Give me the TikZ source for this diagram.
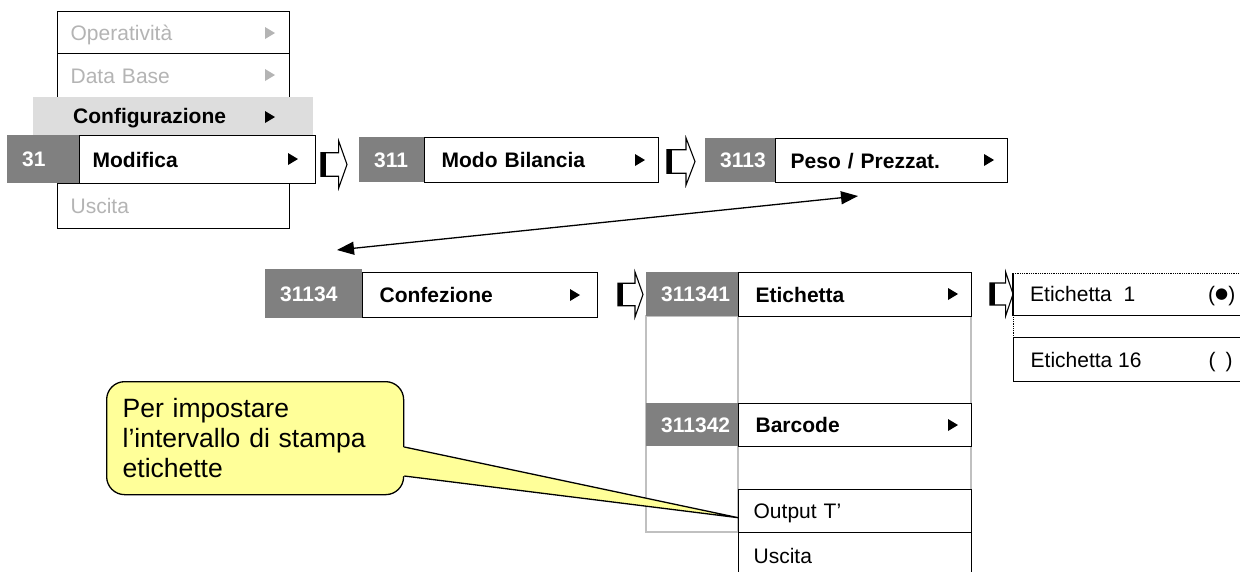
\documentclass[tikz,border=0pt]{standalone}
\usepackage{fontspec}
\setmainfont{Liberation Sans}
\newfontfamily\symfont{DejaVu Sans}
\usetikzlibrary{arrows.meta,calc}
\definecolor{numgray}{HTML}{808080}
\definecolor{dimtext}{HTML}{B4B4B4}
\definecolor{bandgray}{HTML}{DDDDDD}
\definecolor{colgray}{HTML}{C0C0C0}
\definecolor{noteyellow}{HTML}{FFFF99}
\newcommand\menufont{\fontsize{21}{24}\selectfont}
\newcommand\notefont{\fontsize{26.5}{30}\selectfont}
\newcommand\menuarrow[3]{\fill[#3] ({#1-5},{#2-6}) -- ({#1+5},{#2}) -- ({#1-5},{#2+6}) -- cycle;}
\newcommand\blkarrow[4]{%
  \draw[line width=1.1pt, fill=white, line join=miter]
    ({#1},{#2+0.25*(#4-#2)}) -- ({#1+0.68*(#3-#1)},{#2+0.25*(#4-#2)}) --
    ({#1+0.68*(#3-#1)},{#2}) -- ({#3},{(#2+#4)/2}) -- ({#1+0.68*(#3-#1)},{#4}) --
    ({#1+0.68*(#3-#1)},{#4-0.25*(#4-#2)}) -- ({#1},{#4-0.25*(#4-#2)}) -- cycle;
  \draw[line width=5pt] ({#1+2.5},{#2+0.25*(#4-#2)}) -- ({#1+2.5},{#4-0.25*(#4-#2)});}
\begin{document}
\begin{tikzpicture}[x=1pt,y=-1pt,
  mbox/.style={draw=black, line width=1.3pt, fill=white, anchor=north west,
    inner xsep=16pt, inner ysep=0pt, align=left, font=\menufont,
    text height=19pt, text depth=4pt},
  nbox/.style={fill=numgray, anchor=north west, inner xsep=15pt, inner ysep=0pt,
    align=left, font=\menufont\bfseries, text=white, text height=19pt, text depth=4pt},
  dimbox/.style={mbox, inner xsep=13pt, text=dimtext},
  bigarrow/.style={line width=1.3pt, {Triangle[length=17pt,width=13pt]}-{Triangle[length=17pt,width=13pt]}}
]
\useasboundingbox (0,0) rectangle (1240,571);
\clip (0,0) rectangle (1240,571);

% ---- top menu ----
\node[dimbox, text width=206pt, minimum height=42pt] (op) at (57,11) {Operatività};
\node[dimbox, text width=206pt, minimum height=44pt] (db) at (57,53) {Data Base};
\node[dimbox, text width=206pt, minimum height=45pt] (us) at (57,183) {Uscita};
\node[fill=bandgray, anchor=north west, inner xsep=40pt, inner ysep=0pt, text width=200pt,
  minimum height=38pt, align=left, font=\menufont\bfseries,
  text height=19pt, text depth=4pt] (cfg) at (33,97) {Configurazione};
\node[nbox, text width=43pt, minimum height=48pt] (n31) at (7,135) {31};
\node[mbox, inner xsep=13pt, text width=210pt, minimum height=48pt] (mod) at (79,135) {\textbf{Modifica}};
\menuarrow{270}{33}{dimtext}
\menuarrow{270}{75}{dimtext}
\menuarrow{270}{117}{black}
\menuarrow{293}{159}{black}

% ---- second row ----
\blkarrow{321}{141}{347}{188}
\node[nbox, text width=35pt, minimum height=45pt] (n311) at (359,137) {311};
\node[mbox, inner xsep=17pt, text width=200pt, minimum height=45pt] (modo) at (424,137) {\textbf{Modo Bilancia}};
\menuarrow{640}{160}{black}
\blkarrow{667}{138}{695}{185}
\node[nbox, text width=40pt, minimum height=44pt] (n3113) at (705,138) {3113};
\node[mbox, inner xsep=15pt, text width=202pt, minimum height=44pt] (peso) at (775,138) {\textbf{Peso / Prezzat.}};
\menuarrow{989}{160}{black}

% ---- double arrow ----
\coordinate (arrR) at (858,196);
\coordinate (arrL) at (337,250);
\draw[bigarrow] (arrL) -- (arrR);

% ---- third row ----
\node[nbox, text width=67pt, minimum height=49pt] (n31134) at (265,269) {31134};
\node[mbox, inner xsep=17pt, text width=201pt, minimum height=45pt] (conf) at (362,272) {\textbf{Confezione}};
\menuarrow{575}{295}{black}
\blkarrow{618}{272}{643}{317}

% ---- callout ----
\node[draw=black, line width=1.3pt, fill=noteyellow, rounded corners=18pt, anchor=north west,
  inner xsep=16pt, inner ysep=0pt, text width=265pt, minimum height=113pt, align=left,
  font=\notefont] (note) at (106,381) {Per impostare\\l’intervallo di stampa\\etichette};

% ---- submenu column ----
\draw[colgray, line width=1.3pt] (646,316) rectangle (971,532);
\draw[colgray, line width=1.3pt] (738,316) -- (738,532);
\node[nbox, text width=62pt, minimum height=44pt] (n311341) at (646,272) {311341};
\node[mbox, inner xsep=17pt, text width=199pt, minimum height=44pt] (etic) at (738,272) {\textbf{Etichetta}};
\menuarrow{953}{294}{black}
\node[nbox, text width=62pt, minimum height=43pt] (n311342) at (646,403) {311342};
\node[mbox, inner xsep=17pt, text width=199pt, minimum height=43pt] (barc) at (738,403) {\textbf{Barcode}};
\menuarrow{953}{425}{black}
\node[mbox, inner xsep=15pt, text width=203pt, minimum height=43pt] (outp) at (738,489) {Output T’};
\node[mbox, inner xsep=15pt, text width=203pt, minimum height=46pt] (usc) at (738,532) {Uscita};

% callout pointer
\fill[noteyellow] ($(note.north east)+(-2,66)$) -- ($(outp.west)+(0,6.5)$) -- ($(note.north east)+(-2,95)$) -- cycle;
\draw[line width=1.3pt, line join=round] ($(note.north east)+(0,66)$) -- ($(outp.west)+(0,6.5)$) -- ($(note.north east)+(0,95)$);

% ---- label choice ----
\blkarrow{990}{272}{1013}{316}
\node[fill=white, anchor=north west, inner xsep=17pt, inner ysep=0pt, minimum height=42pt,
  font=\menufont, text height=19pt, text depth=4pt] (e1) at (1013,273)
  {\hbox to 207pt{Etichetta\ \ 1\hfill\makebox[29pt][l]{(\raisebox{3.5pt}{\symfont\fontsize{15}{15}\selectfont ●})}}};
\draw[line width=1.3pt] (e1.north west) -- (e1.south west) -- (e1.south east);
\draw[densely dotted, line width=0.8pt] (e1.north west) -- (e1.north east);
\node[mbox, inner xsep=17pt, minimum height=44pt] (e16) at (1013,337) {\hbox to 207pt{Etichetta 16\hfill\makebox[29pt][l]{(\hspace{10pt})}}};
\draw[densely dotted, line width=0.8pt] (e1.south west) -- (e16.north west);
\end{tikzpicture}
\end{document}
